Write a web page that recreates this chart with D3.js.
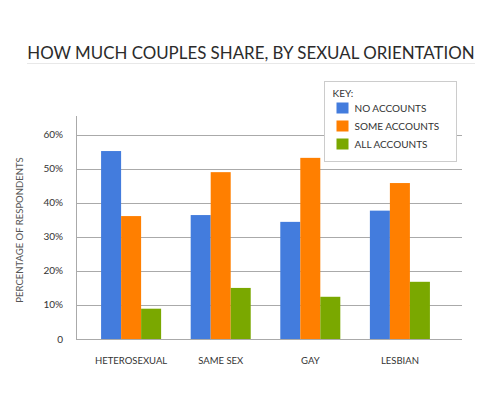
<!DOCTYPE html>
<html>
<head>
<meta charset="utf-8">
<script src="https://cdn.jsdelivr.net/npm/d3@7"></script>
<style>
  body { margin: 0; background: #fff; }
  svg text { font-family: Lato, "Open Sans", sans-serif; fill: #333; }
</style>
</head>
<body>
<div id="chart"></div>
<script>
// chart data
var categories = ["HETEROSEXUAL", "SAME SEX", "GAY", "LESBIAN"];
var seriesNames = ["NO ACCOUNTS", "SOME ACCOUNTS", "ALL ACCOUNTS"];
var noAccounts = [55.2, 36.4, 34.4, 37.7];
var someAccounts = [36.1, 49.0, 53.2, 45.8];
var allAccounts = [8.9, 15.0, 12.4, 16.8];
var yTicks = [0, 10, 20, 30, 40, 50, 60];
var colors = ["#437cdd", "#ff7f00", "#7aa800"];

var seriesValues = [noAccounts, someAccounts, allAccounts];

var width = 500, height = 400;
var plotLeft = 76, plotRight = 462, plotTop = 116, plotBottom = 339;

var svg = d3.select("#chart").append("svg")
  .attr("width", width)
  .attr("height", height);

// title
var title = svg.append("text")
  .attr("x", 251)
  .attr("y", 58.5)
  .attr("text-anchor", "middle")
  .style("font-size", "20px")
  .style("fill", "#2b2b2b")
  .text("HOW MUCH COUPLES SHARE, BY SEXUAL ORIENTATION");

// shrink the font so the title spans like the original (about 448px)
var tw = title.node().getComputedTextLength();
title.style("font-size", Math.min(20, 20 * 448 / tw) + "px");

svg.append("line")
  .attr("x1", 27).attr("x2", 475)
  .attr("y1", 63.5).attr("y2", 63.5)
  .style("stroke", "#e8e8e8");

// scales
var y = d3.scaleLinear().domain([0, 60]).range([plotBottom, 134.7]);

var x0 = d3.scaleBand()
  .domain(categories)
  .range([plotLeft, 455])
  .paddingInner(0.33)
  .paddingOuter(0.28);

var x1 = d3.scaleBand()
  .domain(d3.range(seriesNames.length))
  .range([0, x0.bandwidth()]);

// gridlines
svg.append("g")
  .selectAll("line")
  .data(yTicks)
  .enter().append("line")
  .attr("x1", plotLeft)
  .attr("x2", plotRight)
  .attr("y1", function(d) { return Math.round(y(d)) + 0.5; })
  .attr("y2", function(d) { return Math.round(y(d)) + 0.5; })
  .style("stroke", "#aaa");

// y axis line
svg.append("line")
  .attr("x1", plotLeft + 0.5).attr("x2", plotLeft + 0.5)
  .attr("y1", plotTop).attr("y2", plotBottom)
  .style("stroke", "#aaa");

// tick labels
svg.append("g")
  .selectAll("text")
  .data(yTicks)
  .enter().append("text")
  .attr("x", 63)
  .attr("y", function(d) { return y(d) + 3.5; })
  .attr("text-anchor", "end")
  .style("font-size", "10px")
  .text(function(d) { return d === 0 ? "0" : d + "%"; });

// y axis title
svg.append("text")
  .attr("transform", "translate(23,230) rotate(-90)")
  .attr("text-anchor", "middle")
  .style("font-size", "9.5px")
  .style("fill", "#555")
  .text("PERCENTAGE OF RESPONDENTS");

// bars
var groups = svg.append("g")
  .selectAll("g")
  .data(categories)
  .enter().append("g")
  .attr("transform", function(d) { return "translate(" + x0(d) + ",0)"; });

groups.selectAll("rect")
  .data(function(d, i) {
    return seriesValues.map(function(s, k) { return { k: k, value: s[i] }; });
  })
  .enter().append("rect")
  .attr("x", function(d) { return x1(d.k); })
  .attr("width", x1.bandwidth())
  .attr("y", function(d) { return y(d.value); })
  .attr("height", function(d) { return plotBottom - y(d.value); })
  .style("fill", function(d) { return colors[d.k]; });

// category labels
svg.append("g")
  .selectAll("text")
  .data(categories)
  .enter().append("text")
  .attr("x", function(d) { return x0(d) + x0.bandwidth() / 2; })
  .attr("y", 364)
  .attr("text-anchor", "middle")
  .style("font-size", "9.5px")
  .text(function(d) { return d; });

// legend
var legend = svg.append("g").attr("transform", "translate(324.5,81.5)");

legend.append("rect")
  .attr("width", 132)
  .attr("height", 80)
  .style("fill", "#fff")
  .style("stroke", "#ccc");

legend.append("text")
  .attr("x", 8)
  .attr("y", 15)
  .style("font-size", "10px")
  .text("KEY:");

var item = legend.selectAll(".item")
  .data(seriesNames)
  .enter().append("g")
  .attr("class", "item")
  .attr("transform", function(d, i) { return "translate(12," + (21 + i * 18) + ")"; });

item.append("rect")
  .attr("width", 12)
  .attr("height", 11)
  .style("fill", function(d, i) { return colors[i]; });

item.append("text")
  .attr("x", 18)
  .attr("y", 9.5)
  .style("font-size", "10px")
  .text(function(d) { return d; });
</script>
</body>
</html>
